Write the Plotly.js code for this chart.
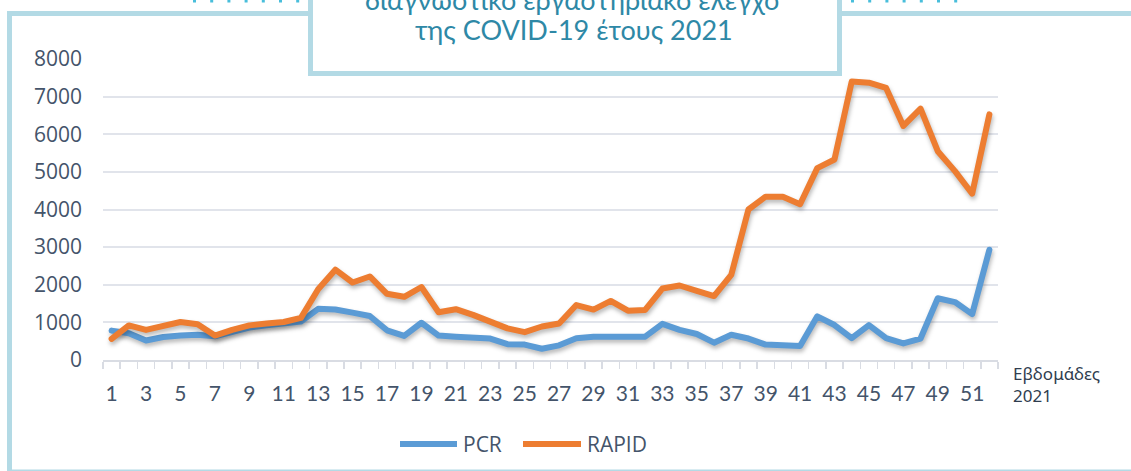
<!DOCTYPE html>
<html>
<head>
<meta charset="utf-8">
<script src="https://cdn.plot.ly/plotly-3.0.1.min.js"></script>
<style>
  html, body { margin: 0; padding: 0; background: #ffffff; }
  #chart { width: 1131px; height: 471px; }
  .scatterlayer .js-line {
    stroke-linejoin: round;
    stroke-linecap: round;
    filter: drop-shadow(1px 3px 2px rgba(0,0,0,0.28));
  }
</style>
</head>
<body>
<div id="chart"></div>
<script>
// ---- data ----
const weeks = [1,2,3,4,5,6,7,8,9,10,11,12,13,14,15,16,17,18,19,20,21,22,23,24,25,26,
               27,28,29,30,31,32,33,34,35,36,37,38,39,40,41,42,43,44,45,46,47,48,49,50,51,52];
const pcr = [780,710,520,610,650,670,630,760,860,920,970,1020,1360,1340,1260,1170,790,640,990,650,
             620,600,570,420,410,300,390,580,620,620,620,620,960,800,690,460,670,570,410,400,
             370,1160,930,580,930,580,440,570,1640,1540,1220,2930];
const rapid = [560,920,800,900,1010,950,650,800,920,970,1010,1120,1880,2400,2060,2220,1760,1680,1940,1270,
               1350,1200,1020,840,740,890,970,1460,1340,1570,1310,1330,1900,1980,1840,1700,2260,4000,4340,4340,
               4140,5100,5330,7400,7370,7230,6220,6680,5550,5020,4420,6530];
const xTickVals = [1,3,5,7,9,11,13,15,17,19,21,23,25,27,29,31,33,35,37,39,41,43,45,47,49,51];
const xTickText = ["1","3","5","7","9","11","13","15","17","19","21","23","25","27","29","31","33","35","37","39","41","43","45","47","49","51"];
const yTickVals = [0,1000,2000,3000,4000,5000,6000,7000,8000];
const seriesNames = ["PCR", "RAPID"];
const titleLines = ["διαγνωστικό εργαστηριακό έλεγχο", "της COVID-19 έτους 2021"];
const axisTitle = "Εβδομάδες<br>2021";

// ---- style ----
const BLUE = "#5b9bd5", ORANGE = "#ed7d31";
const FRAME = "#b3dae5", TITLE_C = "#2e88a6", TICK_C = "#44546a";
const W = 1131, H = 471;
const M = {l: 103, r: 133, t: 59, b: 111};
const PW = W - M.l - M.r, PH = H - M.t - M.b;
const px = x => (x - M.l) / PW;          // pixel -> paper x
const py = y => (H - M.b - y) / PH;      // pixel -> paper y

const traces = [
  {x: weeks, y: pcr, name: seriesNames[0], type: "scatter", mode: "lines",
   line: {color: BLUE, width: 6}, hoverinfo: "skip"},
  {x: weeks, y: rapid, name: seriesNames[1], type: "scatter", mode: "lines",
   line: {color: ORANGE, width: 6}, hoverinfo: "skip"}
];

const shapes = [
  // outer frame
  {type: "rect", xref: "paper", yref: "paper", x0: px(9.5), x1: px(1150), y0: py(13.5), y1: py(472),
   line: {color: FRAME, width: 5}, fillcolor: "rgba(0,0,0,0)", layer: "below"},
  // dotted decorations at the top
  {type: "line", xref: "paper", yref: "paper", x0: px(193), x1: px(302), y0: py(0.5), y1: py(0.5),
   line: {color: "#49bedb", width: 4, dash: "3px,14.2px"}},
  {type: "line", xref: "paper", yref: "paper", x0: px(851), x1: px(960), y0: py(0.5), y1: py(0.5),
   line: {color: "#49bedb", width: 4, dash: "3px,14.2px"}},
  // title box
  {type: "rect", xref: "paper", yref: "paper", x0: px(310.5), x1: px(839.5), y0: py(-20), y1: py(73.5),
   line: {color: FRAME, width: 5}, fillcolor: "#ffffff", layer: "above"},
  // legend lines
  {type: "line", xref: "paper", yref: "paper", x0: px(400), x1: px(457), y0: py(444), y1: py(444),
   line: {color: BLUE, width: 6}},
  {type: "line", xref: "paper", yref: "paper", x0: px(523), x1: px(581), y0: py(444), y1: py(444),
   line: {color: ORANGE, width: 6}}
];

const annotations = [
  {xref: "paper", yref: "paper", x: px(572), y: py(0), xanchor: "center", yanchor: "middle",
   text: titleLines[0], showarrow: false, font: {family: "Lato, 'Open Sans', sans-serif", size: 27, color: TITLE_C}},
  {xref: "paper", yref: "paper", x: px(574), y: py(30), xanchor: "center", yanchor: "middle",
   text: titleLines[1], showarrow: false, font: {family: "Lato, 'Open Sans', sans-serif", size: 27, color: TITLE_C}},
  {xref: "paper", yref: "paper", x: px(1011), y: py(384), xanchor: "left", yanchor: "middle", align: "left",
   text: axisTitle, showarrow: false, font: {family: "'Noto Sans', 'Open Sans', sans-serif", size: 17, color: "#2f3d4f"}},
  {xref: "paper", yref: "paper", x: px(461), y: py(444), xanchor: "left", yanchor: "middle",
   text: seriesNames[0], showarrow: false, font: {family: "'Open Sans', sans-serif", size: 21, color: TICK_C}},
  {xref: "paper", yref: "paper", x: px(585), y: py(444), xanchor: "left", yanchor: "middle",
   text: seriesNames[1], showarrow: false, font: {family: "'Open Sans', sans-serif", size: 21, color: TICK_C}}
];

const layout = {
  width: W, height: H,
  margin: M,
  paper_bgcolor: "#ffffff", plot_bgcolor: "#ffffff",
  showlegend: false,
  xaxis: {
    type: "linear", range: [0.5, 52.5], fixedrange: true,
    tickmode: "array", tickvals: xTickVals, ticktext: xTickText,
    ticks: "", showgrid: false, zeroline: false,
    showline: true, linecolor: "#d9dce3", linewidth: 2,
    minor: {tickmode: "linear", tick0: 0.5, dtick: 1, ticks: "outside", ticklen: 7,
            tickcolor: "#d9dce3", tickwidth: 1.5, showgrid: false},
    ticklabelstandoff: 14,
    tickfont: {family: "Lato, 'Open Sans', sans-serif", size: 21, color: TICK_C}
  },
  yaxis: {
    range: [0, 8000], fixedrange: true,
    tickmode: "array", tickvals: yTickVals,
    showgrid: true, gridcolor: "#e1e4eb", gridwidth: 2,
    zeroline: false, showline: false, ticks: "",
    ticklabelstandoff: 20,
    tickfont: {family: "'Open Sans', sans-serif", size: 21, color: TICK_C}
  },
  shapes: shapes,
  annotations: annotations
};

Plotly.newPlot("chart", traces, layout, {displayModeBar: false, staticPlot: true});
</script>
</body>
</html>
